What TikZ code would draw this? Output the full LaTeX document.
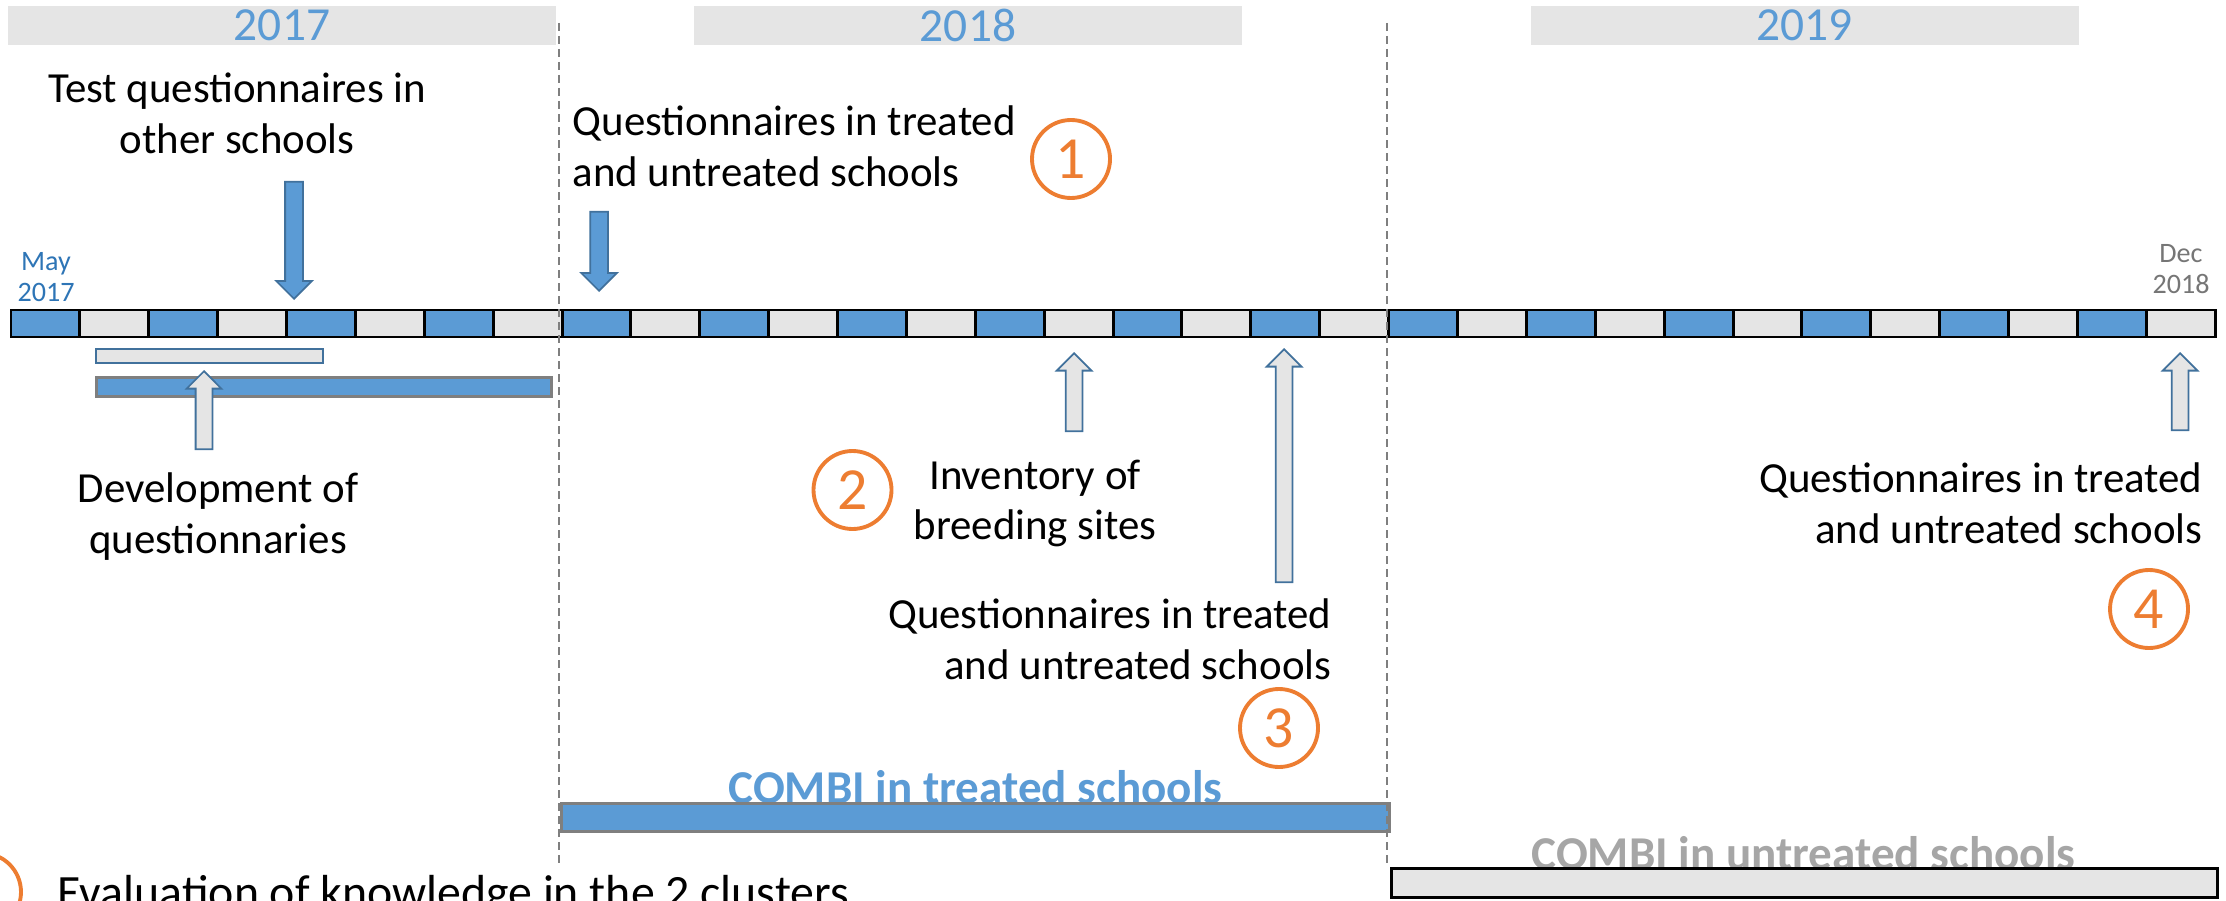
\documentclass[tikz,border=0pt]{standalone}
\usepackage{fontspec}
\setmainfont{Carlito}
\usepackage{tikz}
\usetikzlibrary{shapes.arrows}

\definecolor{timeblue}{RGB}{91,155,213}
\definecolor{edgeblue}{RGB}{65,113,156}
\definecolor{mayblue}{RGB}{46,117,182}
\definecolor{barlight}{RGB}{229,229,229}
\definecolor{stepnum}{RGB}{237,125,49}
\definecolor{decgray}{RGB}{118,118,118}
\definecolor{combigray}{RGB}{166,166,166}
\definecolor{sepgray}{RGB}{127,127,127}

\begin{document}
\begin{tikzpicture}[x=1cm, y=-1cm, font=\fontsize{12.2}{14.5}\selectfont]
		\tikzstyle{yearband} = [rectangle, fill=barlight, minimum width=5.48cm, minimum height=0.39cm, inner sep=0pt, text=timeblue, font=\fontsize{13.5}{14}\selectfont]
		
		\tikzstyle{cellblue} = [rectangle, draw=black, line width=0.85pt, fill=timeblue, minimum width=0.6888cm, minimum height=0.27cm, inner sep=0pt]
		\tikzstyle{cellgray} = [cellblue, fill=barlight]
		
		\tikzstyle{downarrow} = [single arrow, rotate=-90, anchor=tip, draw=edgeblue, line width=0.5pt, fill=timeblue, inner sep=0pt, inner ysep=0.08cm, single arrow head extend=0.09cm]
		\tikzstyle{uparrow} = [single arrow, rotate=90, anchor=tip, draw=edgeblue, line width=0.5pt, fill=barlight, inner sep=0pt, inner ysep=0.075cm, single arrow head extend=0.09cm]
		
		\tikzstyle{note} = [align=center, inner sep=0pt]
		\tikzstyle{monthtext} = [align=center, inner sep=0pt, font=\fontsize{8}{8.8}\selectfont]
		\tikzstyle{stepcircle} = [circle, draw=stepnum, line width=1.1pt, minimum size=0.78cm, inner sep=0pt, text=stepnum, font=\fontsize{17}{17}\selectfont]
		\tikzstyle{combitext} = [inner sep=0pt, anchor=base, font=\bfseries\fontsize{13.4}{14}\selectfont]
		\tikzstyle{period} = [rectangle, inner sep=0pt, line width=0.8pt]
		%-------------------------------------------------------
		\useasboundingbox (0,0) rectangle (22.26,9.01);
		\clip (0,0) rectangle (22.26,9.01);
		
		% years
		\node (y1) [yearband] at (2.82,0.255) {2017};
		\node (y2) [yearband] at (9.68,0.255) {2018};
		\node (y3) [yearband] at (18.045,0.255) {2019};
		
		% the months, one cell each
		\foreach \i in {0,2,...,30}
			\node (cell\i) [cellblue] at ({0.11+(\i+0.5)*0.6888},3.235) {};
		\foreach \i in {1,3,...,31}
			\node (cell\i) [cellgray] at ({0.11+(\i+0.5)*0.6888},3.235) {};
		
		\node (may) [monthtext, text=mayblue] at (0.46,2.77) {May\\2017};
		\node (dec) [monthtext, text=decgray] at (21.81,2.69) {Dec\\2018};
		
		% periods
		\node (tbar) [period, fill=barlight, draw=edgeblue, line width=0.55pt, minimum width=2.27cm, minimum height=0.14cm] at (2.0975,3.56) {};
		\node (dbar) [period, fill=timeblue, draw=sepgray, minimum width=4.55cm, minimum height=0.19cm] at (3.24,3.87) {};
		
		\node (ctext) [combitext, text=timeblue] at (9.755,8.03) {COMBI in treated schools};
		\node (ttext) [combitext, text=combigray] at (18.035,8.69) {COMBI in untreated schools};
		\node (cbar) [period, fill=timeblue, draw=sepgray, minimum width=8.28cm, minimum height=0.28cm] at (9.755,8.175) {};
		\node (ubar) [period, fill=barlight, draw=black, minimum width=8.26cm, minimum height=0.29cm] at (18.045,8.83) {};
		
		% arrows
		\node (a1) [downarrow, minimum height=1.17cm] at (2.94,3.00) {};
		\node (a2) [downarrow, minimum height=0.79cm] at (5.99,2.92) {};
		\node (a3) [uparrow, minimum height=0.78cm] at (2.04,3.70) {};
		\node (a4) [uparrow, minimum height=0.78cm] at (10.74,3.52) {};
		\node (a5) [uparrow, minimum height=2.33cm] at (12.84,3.48) {};
		\node (a6) [uparrow, minimum height=0.77cm] at (21.80,3.52) {};
		
		% texts
		\node (tq) [note] at (2.37,1.13) {Test questionnaires in\\other schools};
		\node (q1) [note, align=left, anchor=west] at (5.72,1.465) {Questionnaires in treated\\and untreated schools};
		\node (inv) [note] at (10.35,5.035) {Inventory of\\breeding sites};
		\node (q3) [note, align=right, anchor=east] at (13.32,6.39) {Questionnaires in treated\\and untreated schools};
		\node (q4) [note, align=right, anchor=east] at (22.03,5.03) {Questionnaires in treated\\and untreated schools};
		\node (dev) [note] at (2.18,5.165) {Development of\\questionnaries};
		\node (eval) [note, anchor=base west, font=\fontsize{13.6}{15}\selectfont] at (0.57,9.08) {Evaluation of knowledge in the 2 clusters};
		
		% steps
		\node (s1) [stepcircle] at (10.71,1.59) {1};
		\node (s2) [stepcircle] at (8.525,4.90) {2};
		\node (s3) [stepcircle] at (12.79,7.28) {3};
		\node (s4) [stepcircle] at (21.49,6.09) {4};
		\node (s5) [stepcircle] at (-0.18,8.92) {};
		
		% year limits
		\draw [sepgray, line width=0.6pt, dash pattern=on 0.08cm off 0.05cm] (5.59,0.23) -- (5.59,8.67);
		\draw [sepgray, line width=0.6pt, dash pattern=on 0.08cm off 0.05cm] (13.87,0.23) -- (13.87,8.63);
\end{tikzpicture}
\end{document}
